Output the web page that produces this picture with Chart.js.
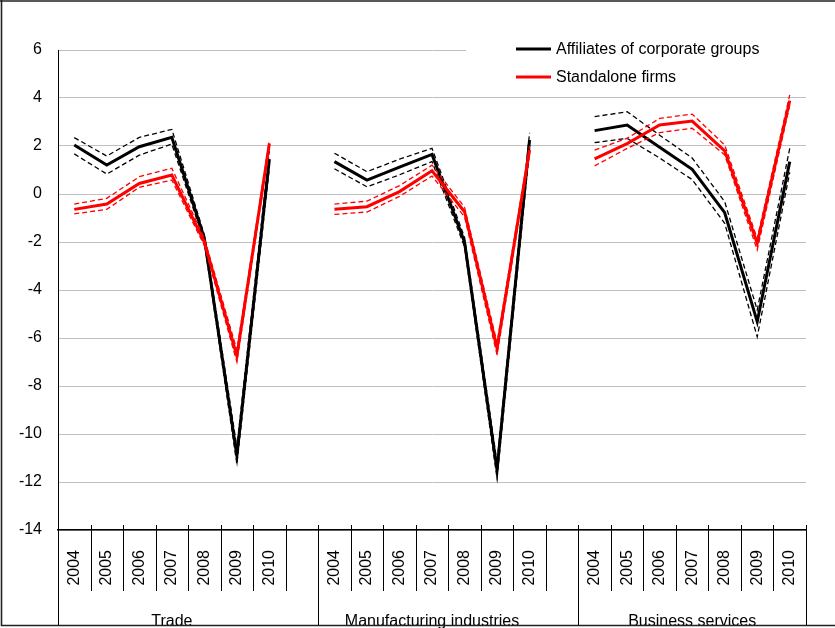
<!DOCTYPE html>
<html>
<head>
<meta charset="utf-8">
<script src="https://cdn.jsdelivr.net/npm/chart.js@4"></script>
<style>
html,body{margin:0;padding:0;background:#fff;}
canvas{display:block;}
</style>
</head>
<body>
<canvas id="c" width="835" height="628"></canvas>
<script>
// ---- data ----
const years = ['2004','2005','2006','2007','2008','2009','2010'];
const groups = ['Trade','Manufacturing industries','Business services'];
const yTicks = [6,4,2,0,-2,-4,-6,-8,-10,-12,-14];

// Affiliates of corporate groups (point estimate, upper, lower band)
const tradeAff      = [2.04, 1.21, 1.97, 2.36, -1.85, -10.9, 1.45];
const tradeAffHi    = [2.35, 1.58, 2.36, 2.69, -1.7, -10.55, 1.8];
const tradeAffLo    = [1.67, 0.83, 1.62, 2.08, -2.0, -11.25, 1.1];
const manufAff      = [1.35, 0.58, 1.12, 1.65, -2.0, -11.5, 2.25];
const manufAffHi    = [1.7, 0.93, 1.45, 1.9, -1.8, -11.2, 2.55];
const manufAffLo    = [1.05, 0.3, 0.8, 1.35, -2.2, -11.85, 1.9];
const busAff        = [2.64, 2.875, 1.95, 1.03, -0.78, -5.32, 1.35];
const busAffHi      = [3.22, 3.43, 2.45, 1.5, -0.32, -4.83, 1.9];
const busAffLo      = [2.14, 2.32, 1.5, 0.6, -1.22, -5.95, 0.9];

// Standalone firms
const tradeStd      = [-0.64, -0.42, 0.44, 0.79, -2.0, -6.75, 2.1];
const tradeStdHi    = [-0.42, -0.18, 0.72, 1.07, -1.85, -6.5, 2.25];
const tradeStdLo    = [-0.83, -0.64, 0.28, 0.58, -2.15, -7.0, 1.95];
const manufStd      = [-0.64, -0.53, 0.1, 0.97, -0.74, -6.43, 1.83];
const manufStdHi    = [-0.42, -0.3, 0.35, 1.2, -0.55, -6.2, 2.0];
const manufStdLo    = [-0.85, -0.75, -0.1, 0.75, -0.95, -6.7, 1.65];
const busStd        = [1.46, 2.1, 2.875, 3.04, 1.8, -2.05, 3.89];
const busStdHi      = [1.83, 2.32, 3.15, 3.33, 2.04, -1.85, 4.13];
const busStdLo      = [1.17, 1.9, 2.56, 2.74, 1.63, -2.33, 3.7];

// ---- build the 23-slot category axis (empty slot between groups) ----
const labels = [...years, '', ...years, '', ...years];
const join = (a, b, c) => [...a, null, ...b, null, ...c];

const FONT = "Arial, 'Liberation Sans', sans-serif";

function lineDS(label, data, color, width, dashed, order) {
  return {
    label, data,
    borderColor: color, backgroundColor: color,
    borderWidth: width,
    borderDash: dashed ? [5, 3] : [],
    pointRadius: 0, tension: 0, spanGaps: false, fill: false,
    order
  };
}

const datasets = [
  lineDS('Affiliates of corporate groups', join(tradeAff, manufAff, busAff), '#000000', 3, false, 4),
  lineDS('aff_hi', join(tradeAffHi, manufAffHi, busAffHi), '#000000', 1.3, true, 5),
  lineDS('aff_lo', join(tradeAffLo, manufAffLo, busAffLo), '#000000', 1.3, true, 6),
  lineDS('Standalone firms', join(tradeStd, manufStd, busStd), '#ff0000', 3, false, 1),
  lineDS('std_hi', join(tradeStdHi, manufStdHi, busStdHi), '#ff0000', 1.3, true, 2),
  lineDS('std_lo', join(tradeStdLo, manufStdLo, busStdLo), '#ff0000', 1.3, true, 3)
];

const legendItems = [
  {text: 'Affiliates of corporate groups', color: '#000000'},
  {text: 'Standalone firms', color: '#ff0000'}
];

const decor = {
  id: 'decor',
  afterDraw(chart) {
    const ctx = chart.ctx;
    const x = chart.scales.x;
    const ca = chart.chartArea;
    const step = x.getPixelForValue(1) - x.getPixelForValue(0);
    const n = labels.length;
    ctx.save();
    ctx.strokeStyle = '#000';
    ctx.lineWidth = 1;
    // slot boundaries
    const groupStarts = [0, 8, 16];
    for (let i = 0; i <= n; i++) {
      const px = Math.round(x.getPixelForValue(i) - step / 2) + 0.5;
      const isGroup = groupStarts.includes(i) || i === n;
      ctx.beginPath();
      ctx.moveTo(px, ca.bottom - 5);
      ctx.lineTo(px, isGroup ? 626 : 591);
      ctx.stroke();
    }
    // group labels
    ctx.fillStyle = '#000';
    ctx.font = '16px ' + FONT;
    ctx.textAlign = 'center';
    ctx.textBaseline = 'alphabetic';
    const bounds = [0, 8, 16, n];
    for (let g = 0; g < groups.length; g++) {
      const a = x.getPixelForValue(bounds[g]) - step / 2;
      const b = x.getPixelForValue(g === 0 ? 7 : (g === 1 ? 15 : n)) - step / 2;
      ctx.fillText(groups[g], (a + b) / 2, 626);
    }
    // outer frame
    ctx.strokeStyle = '#222';
    ctx.lineWidth = 1.6;
    ctx.beginPath();
    ctx.moveTo(1.5, 0);
    ctx.lineTo(1.5, 625.5);
    ctx.lineTo(835, 625.5);
    ctx.moveTo(0, 1);
    ctx.lineTo(835, 1);
    ctx.stroke();
    // legend
    ctx.fillStyle = '#fff';
    ctx.fillRect(466, 34, ca.right - 466, 58);
    ctx.font = '16px ' + FONT;
    ctx.textAlign = 'left';
    ctx.textBaseline = 'middle';
    legendItems.forEach((it, k) => {
      const cy = 49 + k * 28;
      ctx.strokeStyle = it.color;
      ctx.lineWidth = 3;
      ctx.beginPath();
      ctx.moveTo(516, cy);
      ctx.lineTo(551, cy);
      ctx.stroke();
      ctx.fillStyle = '#000';
      ctx.fillText(it.text, 556, cy + 1);
    });
    ctx.restore();
  }
};

new Chart(document.getElementById('c'), {
  type: 'line',
  data: { labels, datasets },
  options: {
    responsive: false,
    devicePixelRatio: 1,
    animation: false,
    layout: { padding: { top: 50, right: 29, left: 0, bottom: 0 } },
    plugins: { legend: { display: false }, tooltip: { enabled: false } },
    scales: {
      x: {
        type: 'category',
        offset: true,
        grid: { display: false },
        border: { display: true, color: '#000', width: 1.5 },
        ticks: {
          autoSkip: false, minRotation: 90, maxRotation: 90,
          padding: 12, color: '#000',
          font: { family: FONT, size: 16 }
        },
        afterFit: s => { s.height = 98; }
      },
      y: {
        min: -14, max: 6,
        afterBuildTicks: s => { s.ticks = yTicks.map(v => ({ value: v })); },
        grid: { color: '#c0c0c0', lineWidth: 1, drawTicks: false },
        border: { display: true, color: '#000', width: 1 },
        ticks: {
          padding: 16, color: '#000',
          font: { family: FONT, size: 16 }
        },
        afterFit: s => { s.width = 58; }
      }
    }
  },
  plugins: [decor]
});
</script>
</body>
</html>
